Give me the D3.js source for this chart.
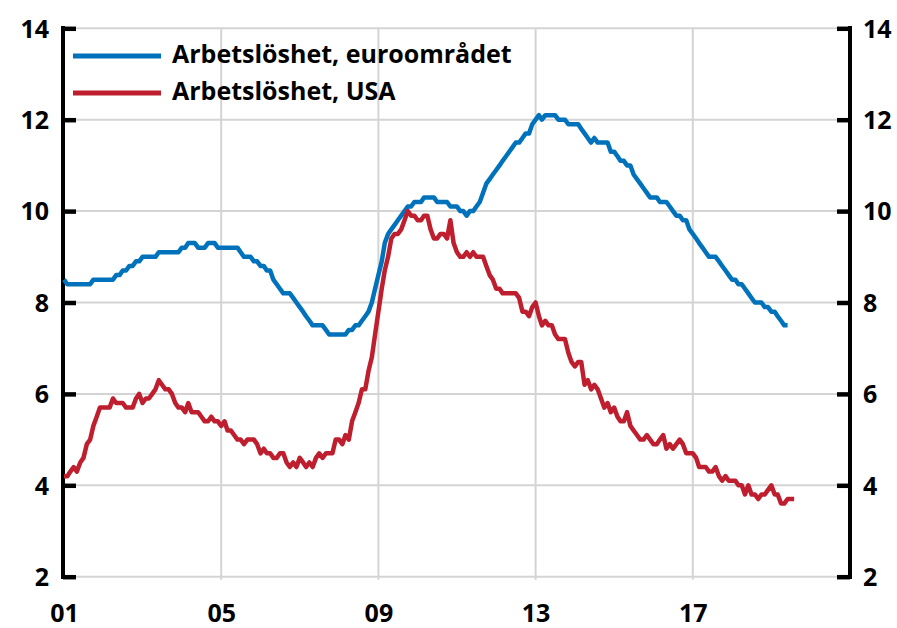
<!DOCTYPE html>
<html><head><meta charset="utf-8">
<script src="https://cdn.jsdelivr.net/npm/d3@7"></script>
<style>
body{margin:0;background:#fff}
svg{display:block}
text{font-family:"Open Sans",sans-serif;font-weight:700;fill:#000}
</style>
</head><body>
<svg id="chart" width="897" height="628"></svg>
<script>
// ---- data (monthly, seasonally adjusted, %) ----
const startYear = 2001;               // first observation: January 2001
const seriesNames = ["Arbetslöshet, euroområdet", "Arbetslöshet, USA"];
const seriesColors = ["#0072bc", "#be1e2d"];

// Euro area unemployment, Jan 2001 – Jun 2019
const euroArea = [
  8.5,8.4,8.4,8.4,8.4,8.4,8.4,8.4,8.4,8.5,8.5,8.5,
  8.5,8.5,8.5,8.5,8.6,8.6,8.7,8.7,8.8,8.8,8.9,8.9,
  9.0,9.0,9.0,9.0,9.0,9.1,9.1,9.1,9.1,9.1,9.1,9.1,
  9.2,9.2,9.3,9.3,9.3,9.2,9.2,9.2,9.3,9.3,9.3,9.2,
  9.2,9.2,9.2,9.2,9.2,9.2,9.1,9.0,9.0,9.0,8.9,8.9,
  8.8,8.8,8.7,8.7,8.5,8.4,8.3,8.2,8.2,8.2,8.1,8.0,
  7.9,7.8,7.7,7.6,7.5,7.5,7.5,7.5,7.4,7.3,7.3,7.3,
  7.3,7.3,7.3,7.4,7.4,7.5,7.5,7.6,7.7,7.8,8.0,8.3,
  8.6,8.9,9.3,9.5,9.6,9.7,9.8,9.9,10.0,10.1,10.1,10.2,
  10.2,10.2,10.3,10.3,10.3,10.3,10.2,10.2,10.2,10.2,10.1,10.1,
  10.1,10.0,10.0,9.9,10.0,10.0,10.1,10.2,10.4,10.6,10.7,10.8,
  10.9,11.0,11.1,11.2,11.3,11.4,11.5,11.5,11.6,11.7,11.7,11.9,
  12.0,12.1,12.0,12.1,12.1,12.1,12.1,12.0,12.0,12.0,11.9,11.9,
  11.9,11.9,11.8,11.7,11.6,11.5,11.6,11.5,11.5,11.5,11.5,11.3,
  11.3,11.2,11.1,11.1,11.0,11.0,10.8,10.7,10.6,10.5,10.4,10.3,
  10.3,10.3,10.2,10.2,10.2,10.1,10.0,9.9,9.9,9.8,9.8,9.6,
  9.5,9.4,9.3,9.2,9.1,9.0,9.0,9.0,8.9,8.8,8.7,8.6,
  8.5,8.5,8.4,8.4,8.3,8.2,8.1,8.0,8.0,8.0,7.9,7.9,
  7.8,7.8,7.7,7.6,7.5,7.5
];

// USA unemployment, Jan 2001 – Aug 2019
const usa = [
  4.2,4.2,4.3,4.4,4.3,4.5,4.6,4.9,5.0,5.3,5.5,5.7,
  5.7,5.7,5.7,5.9,5.8,5.8,5.8,5.7,5.7,5.7,5.9,6.0,
  5.8,5.9,5.9,6.0,6.1,6.3,6.2,6.1,6.1,6.0,5.8,5.7,
  5.7,5.6,5.8,5.6,5.6,5.6,5.5,5.4,5.4,5.5,5.4,5.4,
  5.3,5.4,5.2,5.2,5.1,5.0,5.0,4.9,5.0,5.0,5.0,4.9,
  4.7,4.8,4.7,4.7,4.6,4.6,4.7,4.7,4.5,4.4,4.5,4.4,
  4.6,4.5,4.4,4.5,4.4,4.6,4.7,4.6,4.7,4.7,4.7,5.0,
  5.0,4.9,5.1,5.0,5.4,5.6,5.8,6.1,6.1,6.5,6.8,7.3,
  7.8,8.3,8.7,9.0,9.4,9.5,9.5,9.6,9.8,10.0,9.9,9.9,
  9.8,9.8,9.9,9.9,9.6,9.4,9.4,9.5,9.5,9.4,9.8,9.3,
  9.1,9.0,9.0,9.1,9.0,9.1,9.0,9.0,9.0,8.8,8.6,8.5,
  8.3,8.3,8.2,8.2,8.2,8.2,8.2,8.1,7.8,7.8,7.7,7.9,
  8.0,7.7,7.5,7.6,7.5,7.5,7.3,7.2,7.2,7.2,6.9,6.7,
  6.6,6.7,6.7,6.2,6.3,6.1,6.2,6.1,5.9,5.7,5.8,5.6,
  5.7,5.5,5.4,5.4,5.6,5.3,5.2,5.1,5.0,5.0,5.1,5.0,
  4.9,4.9,5.0,5.1,4.8,4.9,4.8,4.9,5.0,4.9,4.7,4.7,
  4.7,4.6,4.4,4.4,4.4,4.3,4.3,4.4,4.2,4.1,4.2,4.1,
  4.1,4.1,4.0,4.0,3.8,4.0,3.8,3.8,3.7,3.8,3.8,3.9,
  4.0,3.8,3.8,3.6,3.6,3.7,3.7,3.7
];

const xTickYears = [2001, 2005, 2009, 2013, 2017];
const xDomainYears = [2001, 2021];
const yTicks = [2, 4, 6, 8, 10, 12, 14];
const yDomain = [2, 14];

// ---- drawing ----
const svg = d3.select("#chart");
const x = d3.scaleTime()
  .domain(xDomainYears.map(yr => new Date(yr, 0, 1)))
  .range([64, 850]);
const y = d3.scaleLinear().domain(yDomain).range([576.7, 28.3]);

const toPoints = arr => arr.map((v, i) => ({date: d3.timeMonth.offset(new Date(startYear, 0, 1), i), v}));

// gridlines
const grid = svg.append("g").attr("stroke", "#d4d4d4").attr("stroke-width", 2);
grid.selectAll("line.h").data(yTicks).join("line")
  .attr("x1", x.range()[0]).attr("x2", x.range()[1])
  .attr("y1", d => y(d)).attr("y2", d => y(d));
grid.selectAll("line.v").data(xTickYears.slice(1)).join("line")
  .attr("x1", d => x(new Date(d, 0, 1))).attr("x2", d => x(new Date(d, 0, 1)))
  .attr("y1", y(14)).attr("y2", y(2) + 3);

// axes (ticks pointing inward)
const leftAxis = d3.axisLeft(y).tickValues(yTicks).tickSize(-13).tickPadding(14).tickFormat(d3.format("d"));
const rightAxis = d3.axisRight(y).tickValues(yTicks).tickSize(-13).tickPadding(14).tickFormat(d3.format("d"));

function styleAxis(g) {
  g.select(".domain").remove();
  g.selectAll(".tick line").attr("stroke", "#000").attr("stroke-width", 4.5);
  g.selectAll(".tick text").attr("font-size", 25).attr("font-family", "'Open Sans',sans-serif")
    .attr("font-weight", 700).attr("fill", "#000").attr("dy", "0.35em");
}
const gl = svg.append("g").attr("transform", `translate(${x.range()[0] - 1},0)`).call(leftAxis).call(styleAxis);
gl.selectAll(".tick text").attr("x", -14);
const gr = svg.append("g").attr("transform", `translate(${x.range()[1]},0)`).call(rightAxis).call(styleAxis);
gr.selectAll(".tick text").attr("x", 13);

// axis spines
svg.append("line").attr("x1", x.range()[0] - 1).attr("x2", x.range()[0] - 1)
  .attr("y1", y(14) - 2.3).attr("y2", y(2) + 2.3).attr("stroke", "#000").attr("stroke-width", 4);
svg.append("line").attr("x1", x.range()[1]).attr("x2", x.range()[1])
  .attr("y1", y(14) - 2.3).attr("y2", y(2) + 2.3).attr("stroke", "#000").attr("stroke-width", 4);

// x axis labels
const bottomAxis = d3.axisBottom(x).tickValues(xTickYears.map(yr => new Date(yr, 0, 1)))
  .tickSize(0).tickPadding(0).tickFormat(d3.timeFormat("%y"));
const gb = svg.append("g").attr("transform", "translate(0,622)").call(bottomAxis);
gb.select(".domain").remove();
gb.selectAll(".tick text").attr("font-size", 25).attr("font-family", "'Open Sans',sans-serif")
  .attr("font-weight", 700).attr("fill", "#000").attr("dy", 0).attr("y", 0);

// lines
const line = d3.line().x(d => x(d.date)).y(d => y(d.v));
[euroArea, usa].forEach((arr, i) => {
  svg.append("path").datum(toPoints(arr))
    .attr("fill", "none").attr("stroke", seriesColors[i])
    .attr("stroke-width", 4.5).attr("stroke-linejoin", "round")
    .attr("d", line);
});

// legend
const legendY = [56, 93];
const leg = svg.append("g");
seriesNames.forEach((name, i) => {
  leg.append("line").attr("x1", 73).attr("x2", 161)
    .attr("y1", legendY[i]).attr("y2", legendY[i])
    .attr("stroke", seriesColors[i]).attr("stroke-width", 5);
  leg.append("text").attr("x", 172).attr("y", legendY[i] + 7)
    .attr("font-size", 25).text(name);
});
</script>
</body></html>
